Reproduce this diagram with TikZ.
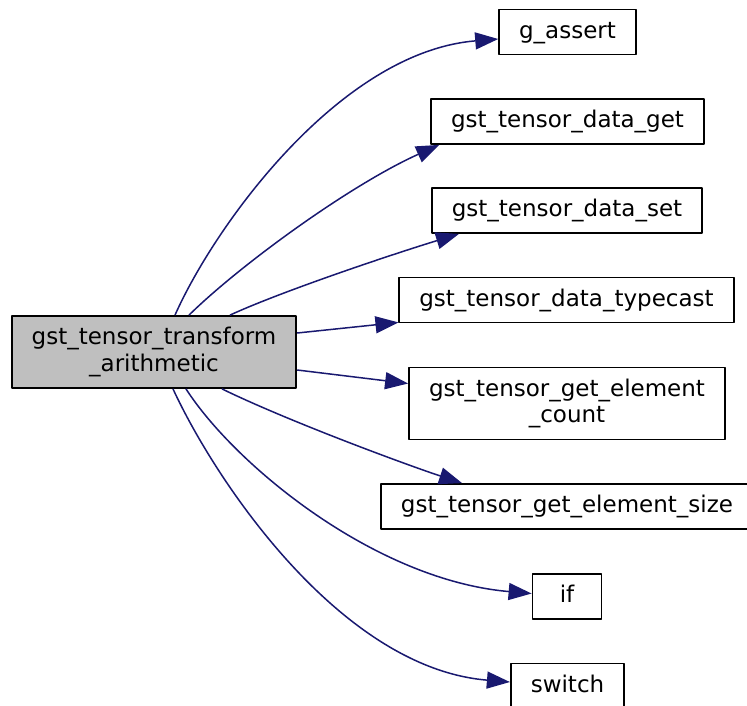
\documentclass[tikz,border=0pt]{standalone}
\usepackage{fontspec}
\setmainfont{DejaVu Sans}
\usetikzlibrary{arrows.meta}
\definecolor{edgeblue}{RGB}{25,25,112}
\definecolor{mainfill}{RGB}{191,191,191}

\begin{document}
\begin{tikzpicture}[x=1pt, y=-1pt, >={Triangle[length=23pt, width=17pt]},
		font=\fontsize{23}{26.7}\selectfont, line join=round,
		fnbox/.style={draw=black, line width=1.8pt, inner xsep=20pt, inner ysep=0pt, minimum height=45pt},
		oneline/.style={fnbox, text height=17pt, text depth=5pt},
		twoline/.style={fnbox, minimum height=72pt, align=center},
		call/.style={->, draw=edgeblue, line width=1.5pt}]
	\useasboundingbox (0,0) rectangle (747,705);
	\clip (0,0) rectangle (747,705);
	\fill[white] (0,0) rectangle (747,705);

	% === CALLER ===
	\node[twoline, fill=mainfill] (transform) at (154,352) {gst\_tensor\_transform\\\_arithmetic};

	% === CALLEES ===
	\node[oneline] (gassert) at (567.5,32) {g\_assert};
	\node[oneline] (dataget) at (567.5,121.5) {gst\_tensor\_data\_get};
	\node[oneline] (dataset) at (567,210.5) {gst\_tensor\_data\_set};
	\node[oneline] (typecast) at (566.5,300) {gst\_tensor\_data\_typecast};
	\node[twoline] (elemcount) at (567,403.5) {gst\_tensor\_get\_element\\\_count};
	\node[oneline] (elemsize) at (567,506.5) {gst\_tensor\_get\_element\_size};
	\node[oneline, minimum width=69pt] (if) at (567,596.5) {if};
	\node[oneline] (switch) at (567.5,686) {switch};

	% === CALLS ===
	\draw[call] ([xshift=21pt]transform.north) .. controls (215,225) and (340,52) .. ([yshift=-7pt]gassert.west);
	\draw[call] ([xshift=35pt]transform.north) .. controls (240,265) and (350,185) .. ([xshift=9pt]dataget.south west);
	\draw[call] ([xshift=76pt]transform.north) .. controls (280,292) and (390,255) .. ([xshift=28pt]dataset.south west);
	\draw[call] ([yshift=19pt]transform.east) -- ([yshift=1pt]typecast.south west);
	\draw[call] ([yshift=-18pt]transform.east) -- ([yshift=20pt]elemcount.west);
	\draw[call] ([xshift=68pt]transform.south) .. controls (290,422) and (410,466) .. ([xshift=82pt]elemsize.north west);
	\draw[call] ([xshift=32pt]transform.south) .. controls (235,465) and (375,580) .. ([yshift=3pt]if.west);
	\draw[call] ([xshift=19pt]transform.south) .. controls (215,480) and (340,668) .. ([yshift=4pt]switch.west);
\end{tikzpicture}
\end{document}
